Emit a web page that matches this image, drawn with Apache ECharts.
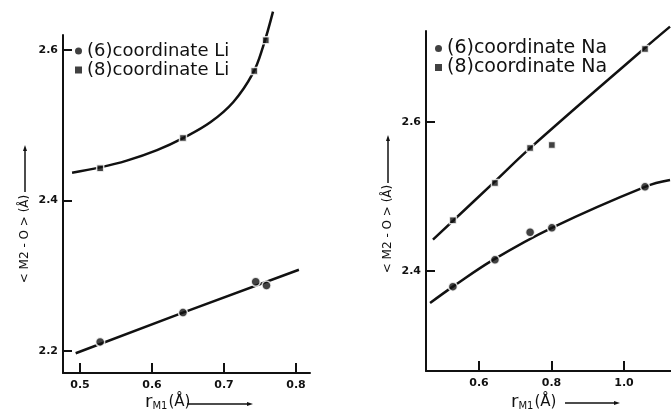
<!DOCTYPE html>
<html>
<head>
<meta charset="utf-8">
<script src="https://cdn.jsdelivr.net/npm/echarts@6/dist/echarts.min.js"></script>
<style>
  html, body { margin: 0; padding: 0; background: #fff; }
  #chart { width: 671px; height: 413px; }
</style>
</head>
<body>
<div id="chart"></div>
<script>
// Li panel: measured points
const liX6 = [0.528, 0.643, 0.744, 0.759];
const liY6 = [2.212, 2.251, 2.292, 2.287];
const liX8 = [0.528, 0.643, 0.742, 0.758];
const liY8 = [2.443, 2.483, 2.572, 2.613];
// Li panel: hand-drawn fit curves
const liFit6X = [0.494, 0.643, 0.804];
const liFit6Y = [2.197, 2.251, 2.308];
const liFit8X = [0.489, 0.528, 0.565, 0.607, 0.643, 0.681, 0.713, 0.740, 0.754, 0.768];
const liFit8Y = [2.437, 2.444, 2.453, 2.467, 2.483, 2.504, 2.531, 2.569, 2.604, 2.651];

// Na panel: measured points
const naX6 = [0.528, 0.644, 0.741, 0.801, 1.058];
const naY6 = [2.379, 2.415, 2.452, 2.458, 2.513];
const naX8 = [0.528, 0.644, 0.741, 0.801, 1.058];
const naY8 = [2.468, 2.518, 2.565, 2.569, 2.698];
// Na panel: fit lines
const naFit6X = [0.465, 0.528, 0.639, 0.801, 1.058, 1.127];
const naFit6Y = [2.357, 2.379, 2.415, 2.458, 2.513, 2.522];
const naFit8X = [0.473, 0.639, 0.741, 1.052, 1.127];
const naFit8Y = [2.442, 2.518, 2.565, 2.697, 2.728];

// tick labels
const liXTicks = [0.5, 0.6, 0.7, 0.8];
const liYTicks = [2.2, 2.4, 2.6];
const naXTicks = [0.6, 0.8, 1.0];
const naYTicks = [2.4, 2.6];

const ink = '#111';
const zip = (xs, ys) => xs.map((x, i) => [x, ys[i]]);

const tickLabel = {
    color: ink,
    fontSize: 11,
    fontWeight: 'bold',
    fontFamily: 'DejaVu Sans',
    formatter: v => Number(v).toFixed(1)
};

function xAxisFor(grid, min, max, ticks) {
    return {
        type: 'value', gridIndex: grid, min: min, max: max,
        splitLine: { show: false },
        axisLine: { onZero: false, lineStyle: { color: ink, width: 2 } },
        axisTick: { inside: true, length: 10, customValues: ticks, lineStyle: { color: ink, width: 2 } },
        axisLabel: Object.assign({ customValues: ticks, margin: 7 }, tickLabel)
    };
}
function yAxisFor(grid, min, max, ticks) {
    return {
        type: 'value', gridIndex: grid, min: min, max: max,
        splitLine: { show: false },
        axisLine: { onZero: false, lineStyle: { color: ink, width: 2 } },
        axisTick: { inside: true, length: 9, customValues: ticks, lineStyle: { color: ink, width: 2 } },
        axisLabel: Object.assign({ customValues: ticks, margin: 5 }, tickLabel)
    };
}

function fitLine(idx, xs, ys, smooth) {
    return {
        type: 'line', xAxisIndex: idx, yAxisIndex: idx,
        data: zip(xs, ys), showSymbol: false, smooth: smooth, clip: false,
        lineStyle: { color: ink, width: 2.5 }, z: 2, silent: true
    };
}
function points(name, idx, xs, ys, symbol, size) {
    return {
        name: name, type: 'scatter', xAxisIndex: idx, yAxisIndex: idx,
        data: zip(xs, ys), symbol: symbol, symbolSize: size,
        itemStyle: { color: ink, borderColor: '#fff', borderWidth: 1.5 }, z: 3
    };
}

function upArrow(x, yBottom, yTop) {
    return [
        { type: 'line', shape: { x1: x, y1: yBottom, x2: x, y2: yTop + 3 }, style: { stroke: ink, lineWidth: 1.5 } },
        { type: 'polygon', shape: { points: [[x, yTop], [x - 2, yTop + 6], [x + 2, yTop + 6]] }, style: { fill: ink } }
    ];
}
function rightArrow(xLeft, xRight, y) {
    return [
        { type: 'line', shape: { x1: xLeft, y1: y, x2: xRight - 3, y2: y }, style: { stroke: ink, lineWidth: 1.5 } },
        { type: 'polygon', shape: { points: [[xRight, y], [xRight - 6, y - 2], [xRight - 6, y + 2]] }, style: { fill: ink } }
    ];
}
function yName(x, y) {
    return {
        type: 'text', x: x, y: y, rotation: Math.PI / 2,
        style: { text: '< M2 - O > (Å)', font: '12px "DejaVu Sans"', fill: ink, align: 'center', verticalAlign: 'middle' }
    };
}
function xName(x, y) {
    return {
        type: 'text', x: x, y: y,
        style: {
            text: '{r|r}{s|M1}{a|(Å)}', fill: ink, align: 'left', verticalAlign: 'middle',
            rich: {
                r: { font: '18px "DejaVu Sans"', fill: ink },
                s: { font: '10px "DejaVu Sans"', fill: ink, verticalAlign: 'bottom', padding: [8, 1, 0, 0] },
                a: { font: '15px "DejaVu Sans"', fill: ink }
            }
        }
    };
}

const chart = echarts.init(document.getElementById('chart'), null, { renderer: 'canvas' });

const option = {
    backgroundColor: '#fff',
    animation: false,
    grid: [
        { left: 63, top: 35, width: 247, height: 338 },
        { left: 426, top: 31, width: 245, height: 340 }
    ],
    xAxis: [
        xAxisFor(0, 0.4764, 0.8194, liXTicks),
        xAxisFor(1, 0.4538, 1.1297, naXTicks)
    ],
    yAxis: [
        yAxisFor(0, 2.1707, 2.62, liYTicks),
        yAxisFor(1, 2.2658, 2.7221, naYTicks)
    ],
    legend: [
        {
            data: [{ name: '(6)coordinate Li', icon: 'circle' }, { name: '(8)coordinate Li', icon: 'rect' }],
            orient: 'vertical', left: 75, top: 42, padding: 0, itemWidth: 7, itemHeight: 7, itemGap: 1,
            itemStyle: { borderWidth: 0 },
            textStyle: { color: ink, fontSize: 18, fontFamily: 'DejaVu Sans' }
        },
        {
            data: [{ name: '(6)coordinate Na', icon: 'circle' }, { name: '(8)coordinate Na', icon: 'rect' }],
            orient: 'vertical', left: 435, top: 39, padding: 0, itemWidth: 7, itemHeight: 7, itemGap: 0,
            itemStyle: { borderWidth: 0 },
            textStyle: { color: ink, fontSize: 19, fontFamily: 'DejaVu Sans' }
        }
    ],
    series: [
        fitLine(0, liFit6X, liFit6Y, false),
        fitLine(0, liFit8X, liFit8Y, 0.4),
        points('(6)coordinate Li', 0, liX6, liY6, 'circle', 9),
        points('(8)coordinate Li', 0, liX8, liY8, 'rect', 7),
        fitLine(1, naFit6X, naFit6Y, 0.4),
        fitLine(1, naFit8X, naFit8Y, 0.4),
        points('(6)coordinate Na', 1, naX6, naY6, 'circle', 9),
        points('(8)coordinate Na', 1, naX8, naY8, 'rect', 7)
    ],
    graphic: [].concat(
        [yName(25, 239), yName(388, 229)],
        upArrow(25, 192, 145),
        upArrow(388, 183, 135),
        [xName(145, 402), xName(511, 402)],
        rightArrow(187, 253, 404),
        rightArrow(565, 620, 403)
    )
};

chart.setOption(option);
</script>
</body>
</html>
